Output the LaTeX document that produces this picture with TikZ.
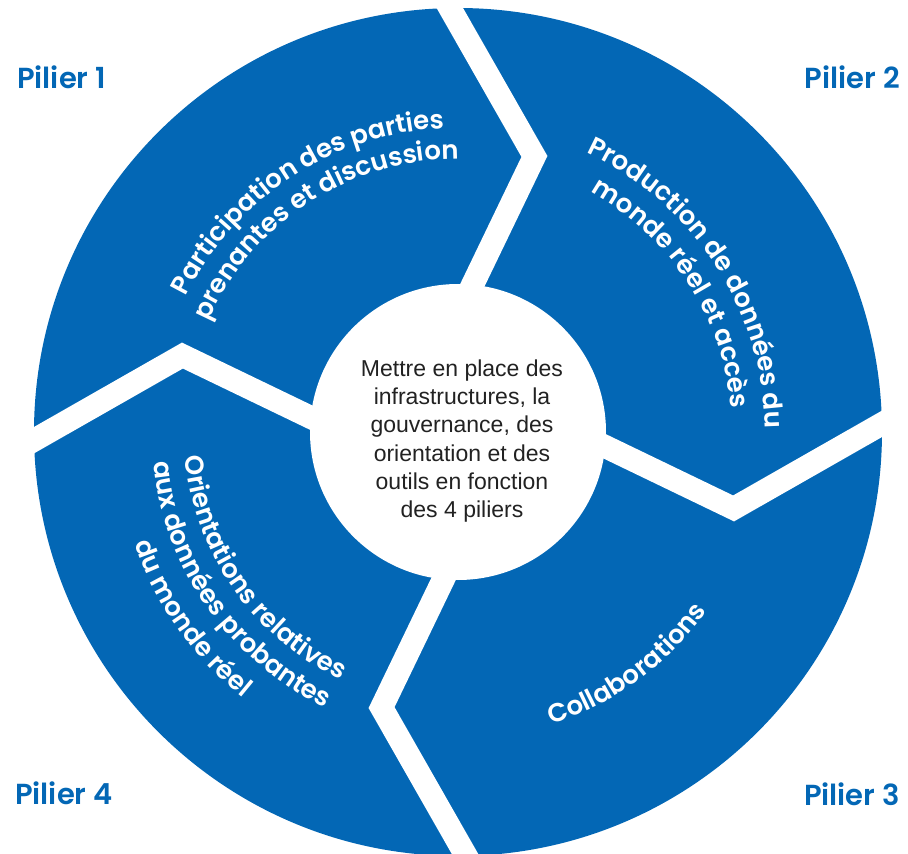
\documentclass[tikz,border=0pt]{standalone}
\usepackage{fontspec}
\setmainfont{Liberation Sans}
\newfontfamily\popsb{Poppins SemiBold}
\usetikzlibrary{decorations.text,calc}
\definecolor{pblue}{RGB}{3,103,181}
\definecolor{ctext}{RGB}{34,34,34}
\begin{document}
\begin{tikzpicture}[x=1pt,y=1pt,
  gap/.style={white, line width=23pt, line join=miter, miter limit=10},
  pilier/.style={text=pblue, font=\popsb\fontsize{29}{29}\selectfont, inner sep=0pt},
  arctext/.style={decorate, decoration={text along path, text align=center, text color=white,
     text={|\popsb\fontsize{26}{26}\selectfont|#1}}}]
\useasboundingbox (-458,-422) rectangle (450,432);
% disc
\node[circle, fill=pblue, minimum size=848pt, inner sep=0pt] (disc) at (0,0) {};
% gaps between pillars
\foreach \r in {0,90,180,270}{
  \draw[gap] ($(74.5-\r:286)!1.3!(91.1-\r:424)$) -- (74.5-\r:286) -- ($(74.5-\r:286)!1.4!(84.2-\r:149)$);
}
% hub
\node[circle, fill=white, minimum size=296pt, inner sep=0pt] (hub) at (0,0) {};
\node[font=\fontsize{23}{28.3}\selectfont, text=ctext, align=center, inner sep=0pt] (core) at (4,-9)
  {Mettre en place des\\infrastructures, la\\gouvernance, des\\orientation et des\\outils en fonction\\des 4 piliers};
% pillar texts
\path[arctext={Participation des parties}] (193:304) arc[start angle=193, end angle=53, radius=304];
\path[arctext={prenantes et discussion}] (193:273) arc[start angle=193, end angle=53, radius=273];
\path[arctext={Production de données du}] (103:307) arc[start angle=103, end angle=-37, radius=307];
\path[arctext={monde réel et accès}] (103:274) arc[start angle=103, end angle=-37, radius=274];
\path[arctext={Collaborations}] (-124:307) arc[start angle=-124, end angle=16, radius=307];
\path[arctext={Orientations relatives}] (145:274) arc[start angle=145, end angle=285, radius=274];
\path[arctext={aux données probantes}] (145:306) arc[start angle=145, end angle=285, radius=306];
\path[arctext={du monde réel}] (145:342) arc[start angle=145, end angle=285, radius=342];
% labels
\node[pilier, anchor=base west] (p1) at (-441,343) {Pilier 1};
\node[pilier, anchor=base east] (p2) at (442,343) {Pilier 2};
\node[pilier, anchor=base east] (p3) at (442,-373) {Pilier 3};
\node[pilier, anchor=base west] (p4) at (-443,-372) {Pilier 4};
\end{tikzpicture}
\end{document}
